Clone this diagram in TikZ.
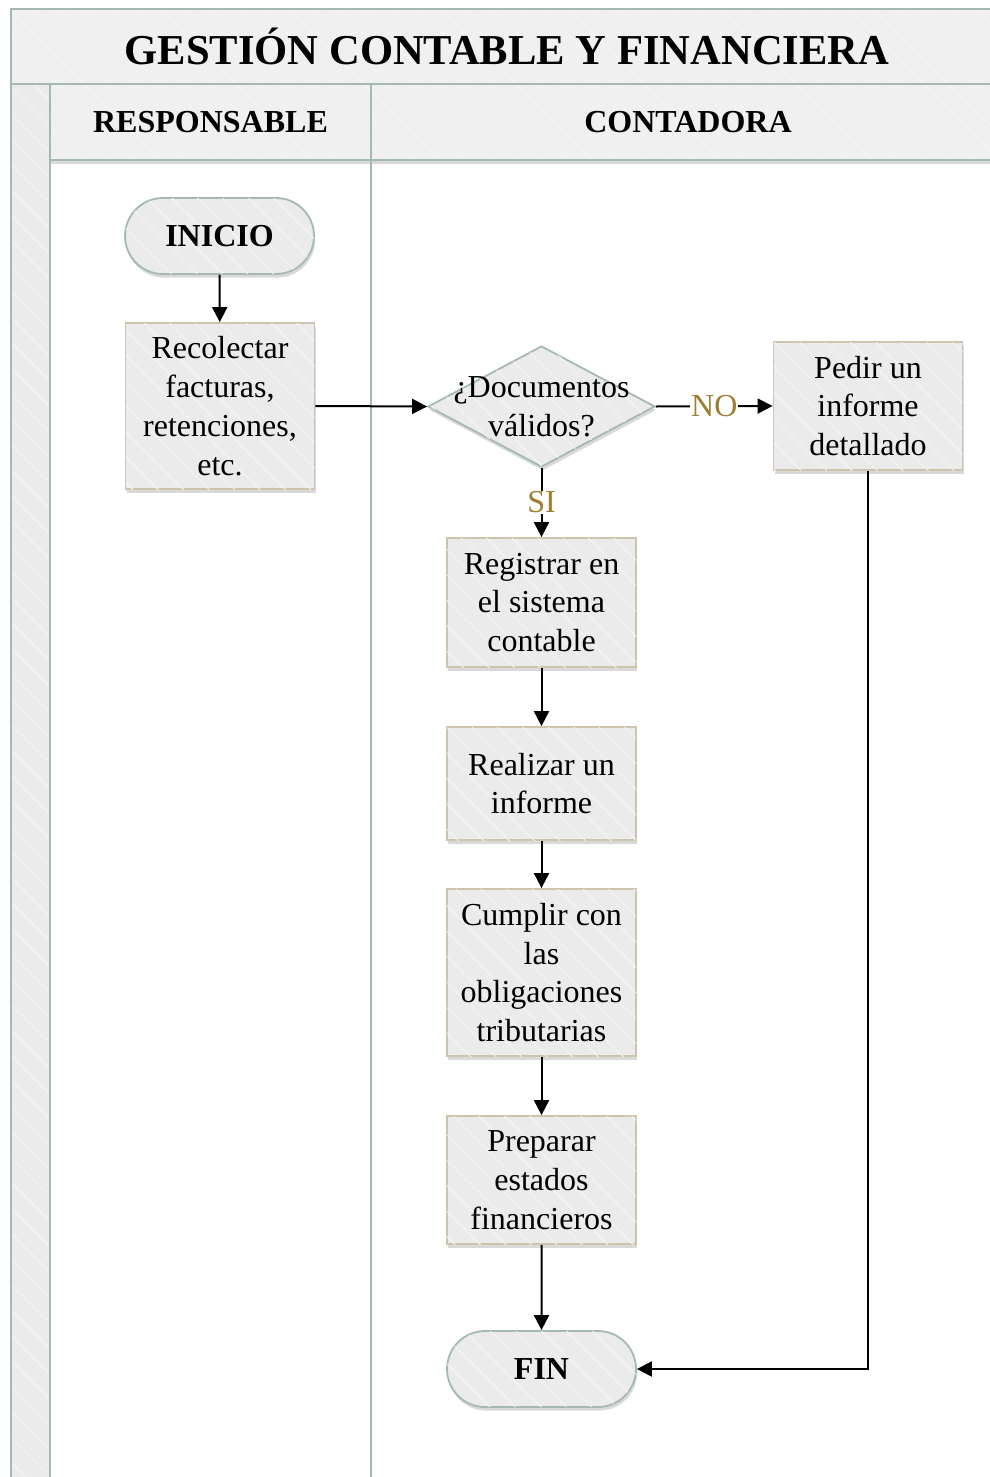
\documentclass[tikz,border=0pt]{standalone}
\usepackage{fontspec}
\setmainfont{Liberation Serif}
\usetikzlibrary{arrows.meta,shapes.geometric,shapes.misc,patterns.meta,shadows}
\definecolor{lanebd}{HTML}{A5B9B1}
\definecolor{boxbd}{HTML}{CCC4AE}
\definecolor{boxfill}{HTML}{EBEBEB}
\definecolor{headfill}{HTML}{F0F0F0}
\definecolor{labcol}{HTML}{9C7F2F}
\definecolor{hatchcol}{HTML}{F6F6F6}
\tikzset{
  hatch/.style={postaction={pattern={Lines[angle=-45,distance=9pt,line width=0.4pt]},pattern color=hatchcol}},
  shade/.style={drop shadow={shadow xshift=0.6pt,shadow yshift=-1.8pt,fill=black,opacity=0.15}},
  bodytxt/.style={font=\fontsize{16}{19.4}\selectfont,align=center},
  procbox/.style={rectangle,draw=boxbd,line width=0.9pt,fill=boxfill,hatch,shade,inner sep=0pt,minimum width=94.5pt,bodytxt},
  termbox/.style={rounded rectangle,draw=lanebd,line width=0.9pt,fill=boxfill,hatch,shade,inner sep=0pt,minimum width=94.5pt,minimum height=38pt,font=\fontsize{16}{19.4}\selectfont\bfseries},
  decbox/.style={diamond,draw=lanebd,line width=0.9pt,fill=boxfill,hatch,shade,inner sep=0pt,minimum width=113.5pt,minimum height=60.5pt},
  flow/.style={draw=black,line width=1pt,-{Triangle[length=7.5pt,width=7.5pt]}},
  lab/.style={fill=white,inner sep=0.5pt,text=labcol,font=\fontsize{16}{19}\selectfont},
  lane/.style={draw=lanebd,line width=1pt}
}
\begin{document}
\begin{tikzpicture}[x=0.5pt,y=-0.5pt]
\useasboundingbox (0,0) rectangle (990,1477);
\clip (0,0) rectangle (990,1477);
% frame
\fill[headfill,hatch] (11,9) rectangle (1000,84);
\fill[boxfill,hatch] (11,84) rectangle (50,1490);
\fill[headfill,hatch,shade] (50,84) rectangle (1000,160);
\draw[lane] (1000,9) -- (11,9) -- (11,1490);
\draw[lane] (11,84) -- (1000,84);
\draw[lane] (50,84) -- (50,1490);
\draw[lane] (50,160) -- (1000,160);
\draw[lane] (371,84) -- (371,1490);
\node[font=\fontsize{21.3}{24}\selectfont\bfseries] (title) at (507,46) {GESTIÓN CONTABLE Y FINANCIERA};
\node[font=\fontsize{16}{19}\selectfont\bfseries] (h1) at (210.5,122) {RESPONSABLE};
\node[font=\fontsize{16}{19}\selectfont\bfseries] (h2) at (688,122) {CONTADORA};
% nodes
\node[termbox] (ini) at (219.5,236) {INICIO};
\node[procbox,minimum height=83pt] (rec) at (220,406) {Recolectar\\facturas,\\retenciones,\\etc.};
\node[decbox] (dec) at (541.5,406.5) {};
\node[bodytxt] (dectxt) at (dec.center) {¿Documentos\\válidos?};
\node[procbox,minimum height=64pt] (ped) at (868,406) {Pedir un\\informe\\detallado};
\node[procbox,minimum height=64.5pt] (reg) at (541.5,602.5) {Registrar en\\el sistema\\contable};
\node[procbox,minimum height=56.5pt] (rea) at (541.5,783.5) {Realizar un\\informe};
\node[procbox,minimum height=83.5pt] (cum) at (541.5,972.5) {Cumplir con\\las\\obligaciones\\tributarias};
\node[procbox,minimum height=64pt] (pre) at (541.5,1180) {Preparar\\estados\\financieros};
\node[termbox] (fin) at (541.5,1369) {FIN};
% connectors
\draw[flow] (ini) -- (rec);
\draw[flow] (rec.east) -- (dec.west);
\draw[flow] (dec.east) -- node[lab] (no) {NO} (ped.west);
\draw[flow] (dec.south) -- node[lab] (si) {SI} (reg.north);
\draw[flow] (reg) -- (rea);
\draw[flow] (rea) -- (cum);
\draw[flow] (cum) -- (pre);
\draw[flow] (pre) -- (fin);
\draw[flow] (ped.south) |- (fin.east);
\end{tikzpicture}
\end{document}
